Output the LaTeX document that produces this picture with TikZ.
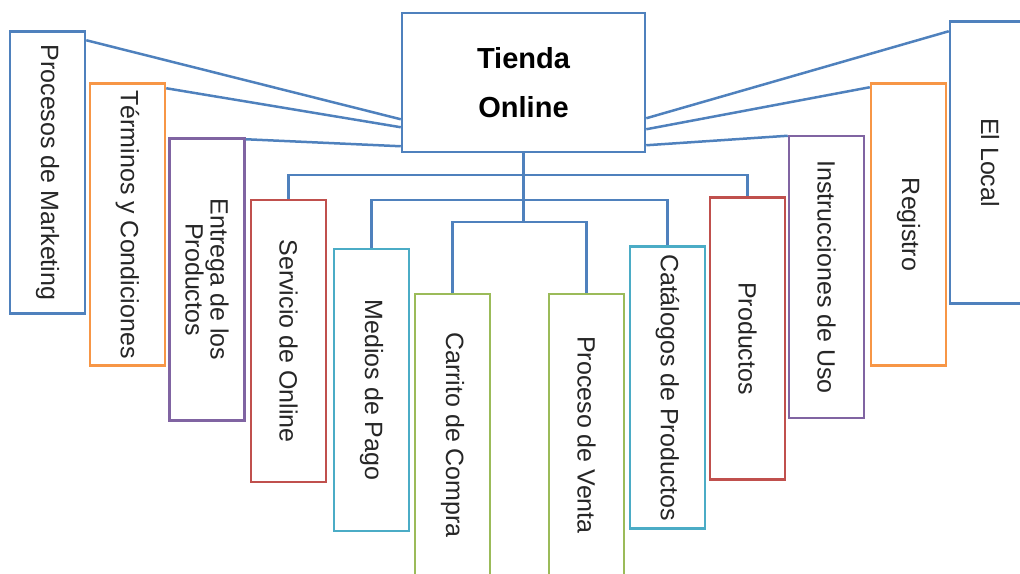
\documentclass[tikz,border=0pt]{standalone}
\usepackage{fontspec}
\setmainfont{Liberation Sans}
\usepackage{tikz}
\usetikzlibrary{positioning, calc}
\definecolor{shopblue}{RGB}{79, 129, 189}
\definecolor{shoporange}{RGB}{247, 150, 70}
\definecolor{shoppurple}{RGB}{128, 100, 162}
\definecolor{shopred}{RGB}{192, 80, 77}
\definecolor{shopteal}{RGB}{75, 172, 198}
\definecolor{shopgreen}{RGB}{155, 187, 89}
\tikzset{
    root/.style={rectangle, draw=shopblue, fill=white, line width=2.5pt, minimum width=243pt, minimum height=139pt, align=center, font=\fontsize{29}{49}\selectfont\bfseries},
    leaf/.style={rectangle, draw, fill=white, line width=2.5pt, rotate=-90, minimum width=282pt, minimum height=75pt, inner sep=0pt, align=center, text=black!85, font=\fontsize{25}{25}\selectfont},
    link/.style={draw=shopblue, line width=2.5pt}
}

\begin{document}
\begin{tikzpicture}[x=1pt, y=-1pt]
    \useasboundingbox (0,0) rectangle (1020,573);
    \clip (0,0) rectangle (1020,573);

    % Root
    \node[root] (tienda) at (523.5, 82.5) {Tienda\\Online};

    % Left fan
    \node[leaf, draw=shopblue] (marketing) at (47.5, 172.5) {Procesos de Marketing};
    \node[leaf, draw=shoporange] (terminos) at (127.5, 224.5) {Términos y Condiciones};
    \node[leaf, draw=shoppurple] (entrega) at (207, 279.5) {Entrega de los\\Productos};

    % Right fan
    \node[leaf, draw=shoppurple] (instrucciones) at (826.5, 277) {Instrucciones de Uso};
    \node[leaf, draw=shoporange] (registro) at (908.5, 224.5) {Registro};
    \node[leaf, draw=shopblue, minimum height=80pt] (local) at (990, 162.5) {El Local};

    % Hanging boxes
    \node[leaf, draw=shopred] (servicio) at (288.5, 341) {Servicio de Online};
    \node[leaf, draw=shopteal] (medios) at (371.5, 390) {Medios de Pago};
    \node[leaf, draw=shopgreen] (carrito) at (452.5, 435) {Carrito de Compra};
    \node[leaf, draw=shopgreen] (venta) at (586.5, 435) {Proceso de Venta};
    \node[leaf, draw=shopteal] (catalogos) at (667.5, 387.5) {Catálogos de Productos};
    \node[leaf, draw=shopred] (productos) at (747.5, 338.5) {Productos};

    % Side links
    \draw[link] ($(marketing.north west)+(0,10)$) -- ($(tienda.south west)+(0,-34)$);
    \draw[link] ($(terminos.north west)+(0,6)$) -- ($(tienda.south west)+(0,-26)$);
    \draw[link] ($(entrega.north west)+(0,2)$) -- ($(tienda.south west)+(0,-7)$);
    \draw[link] ($(local.south west)+(0,11)$) -- ($(tienda.south east)+(0,-35)$);
    \draw[link] ($(registro.south west)+(0,5)$) -- ($(tienda.south east)+(0,-24)$);
    \draw[link] ($(instrucciones.south west)+(0,1)$) -- ($(tienda.south east)+(0,-8)$);

    % Tree below the root
    \coordinate (bar1) at (523.5, 175);
    \coordinate (bar2) at (523.5, 200);
    \coordinate (bar3) at (523.5, 222);
    \draw[link] (tienda.south) -- (bar3);
    \draw[link] (servicio.west) |- (bar1) -| (productos.west);
    \draw[link] (medios.west) |- (bar2) -| (catalogos.west);
    \draw[link] (carrito.west) |- (bar3) -| (venta.west);

\end{tikzpicture}
\end{document}
